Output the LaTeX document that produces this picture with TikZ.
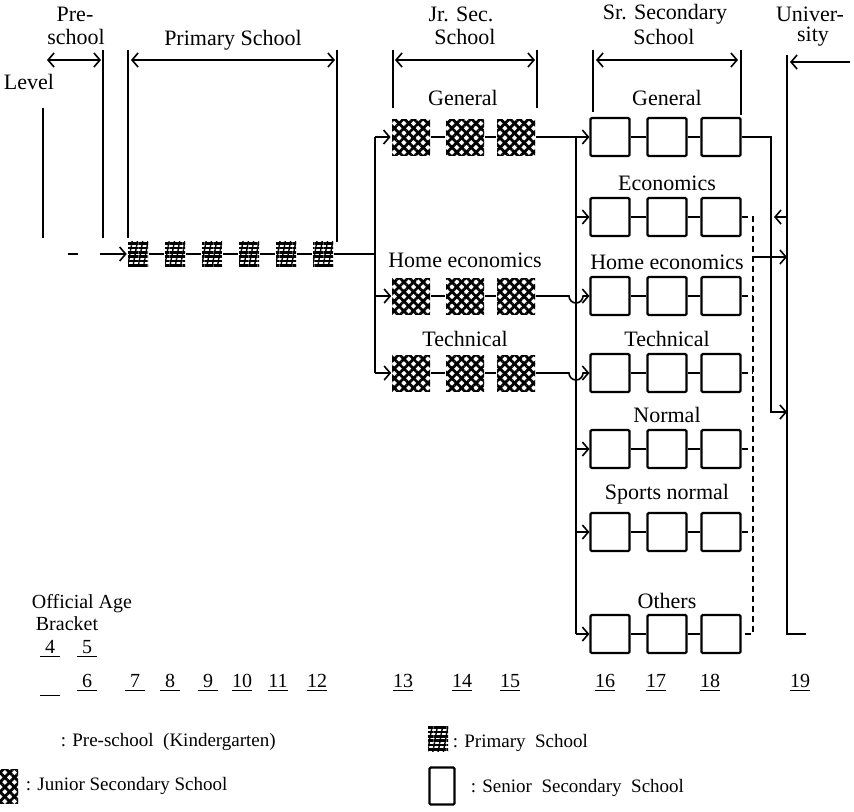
\documentclass[tikz,border=0pt]{standalone}
\usepackage{fontspec}
\setmainfont{Liberation Serif}
\usetikzlibrary{arrows.meta}
\usetikzlibrary{patterns,patterns.meta}

\begin{document}
\begin{tikzpicture}[x=0.5pt,y=-0.5pt,>={Straight Barb[length=3pt,width=7pt]},line width=0.8pt,
  lbl/.style={font=\fontsize{11}{12}\selectfont,inner sep=0pt},
  age/.style={font=\fontsize{10}{12}\selectfont,inner sep=0pt},
  key/.style={font=\fontsize{9.5}{11}\selectfont,inner sep=0pt,anchor=west},
  prim box/.style={minimum width=10pt,minimum height=12.5pt,inner sep=0pt,
    pattern={Lines[angle=0,distance=2.2pt,line width=1.3pt]},
    postaction={pattern={Lines[angle=80,distance=2.6pt,line width=0.7pt]}}},
  jr box/.style={minimum width=19pt,minimum height=18pt,inner sep=0pt,
    pattern={Lines[angle=45,distance=3.4pt,line width=1.4pt]},
    postaction={pattern={Lines[angle=-45,distance=3.4pt,line width=1.4pt]}}},
  sr box/.style={draw,line width=1.1pt,minimum width=19.5pt,minimum height=19pt,
    inner sep=0pt,rounded corners=0.6pt}]

\useasboundingbox (0,0) rectangle (854,811);

% headings
\node[lbl] (pre) at (75,14) {Pre-};
\node[lbl] (pre2) at (76,37) {school};
\node[lbl] (prim) at (233,40) {Primary School};
\node[lbl] (jrs) at (461,14) {Jr. Sec.};
\node[lbl] (jrs2) at (465,37) {School};
\node[lbl] (srs) at (665,14) {Sr. Secondary};
\node[lbl] (srs2) at (664,37) {School};
\node[lbl] (uni) at (810,14) {Univer-};
\node[lbl] (uni2) at (813,37) {sity};
\node[lbl] (level) at (29,82) {Level};

\draw[<->] (47,60) coordinate (pa) -- (101,60) coordinate (pb);
\draw[<->] (131,60) coordinate (qa) -- (335,60) coordinate (qb);
\draw[<->] (395,60) coordinate (ja) -- (535,60) coordinate (jb);
\draw[<->] (596,60) coordinate (sa) -- (738,60) coordinate (sb);
\draw[->] (850,62) coordinate (ua) -- (790,62) coordinate (ub);

\draw (103,50) -- (103,238);
\draw (43,108) -- (43,238);
\draw (128,50) -- (128,238);
\draw (337,50) -- (337,242);
\draw (393,50) -- (393,108);
\draw (537,50) -- (537,108);
\draw (593,50) -- (593,112);
\draw (741,50) -- (741,115);

% boxes
\foreach \x [count=\c] in {138,175,212,249,286,323}
  \node[prim box] (p\c) at (\x,254) {};

\foreach \r/\y in {gen/137,home/296,tech/373}
  \foreach \x [count=\c] in {411,465,516}
    \node[jr box] (j\r\c) at (\x,\y) {};

\foreach \r/\y in {gen/137,eco/217,home/296,tech/373,norm/449,sport/532,oth/634}
  \foreach \x [count=\c] in {610,667,721}
    \node[sr box] (s\r\c) at (\x,\y) {};

% row labels
\node[lbl] at (463,98) {General};
\node[lbl] at (465,260) {Home economics};
\node[lbl] at (465,339) {Technical};
\node[lbl] at (667,98) {General};
\node[lbl] at (667,183) {Economics};
\node[lbl] at (667,262) {Home economics};
\node[lbl] at (667,339) {Technical};
\node[lbl] at (667,415) {Normal};
\node[lbl] at (667,494) {Sports normal};
\node[lbl] at (667,601) {Others};

% links
\draw (p1) -- (p2) -- (p3) -- (p4) -- (p5) -- (p6);
\foreach \r in {gen,home,tech}
  \draw (j\r1) -- (j\r2) (j\r2) -- (j\r3);
\foreach \r in {gen,eco,home,tech,norm,sport,oth}
  \draw (s\r1) -- (s\r2) (s\r2) -- (s\r3);

\draw (68,254) coordinate (d1) -- (78,254) coordinate (d2);
\draw[->] (100,254) coordinate (pin) -- (p1);
\coordinate (jsplit) at (375,254);
\draw (p6) -- (jsplit);
\coordinate (jtop) at (375,137);
\draw (jtop) -- (jtop |- jtech1);
\foreach \r in {gen,home,tech}
  \draw[->] (jtop |- j\r1) -- (j\r1);

\coordinate (sfeed) at (576,137);
\draw[->] (jgen3) -- (sgen1);
\draw (sfeed) -- (sfeed |- soth1);
\foreach \r in {eco,norm,sport,oth}
  \draw[->] (sfeed |- s\r1) -- (s\r1);
\foreach \r in {home,tech}
  \draw[->] (j\r3) -- ([xshift=-3.5pt]sfeed |- j\r3)
    arc[start angle=180,end angle=360,radius=3.5pt] -- (s\r1);

% to university
\coordinate (dtop) at (753,217);
\coordinate (dbot) at (753,634);
\draw[densely dashed] (seco3) -- (dtop) -- (dbot) -- (soth3);
\foreach \r in {home,tech,norm,sport}
  \draw[densely dashed] (s\r3) -- (dtop |- s\r3);
\coordinate (utop) at (787,55);
\draw (utop) -- (787,634) coordinate (ubot) -- (806,634) coordinate (uend);
\coordinate (dout) at (753,257);
\draw[->] (dout) -- (dout -| utop);
\coordinate (gturn) at (771,137);
\coordinate (gdown) at (771,412);
\draw[->] (sgen3) -- (gturn) -- (gdown) -- (gdown -| utop);
\coordinate (uback) at (774,217);
\draw[->] (uback -| utop) -- (uback);

% ages
\node[age] (oa) at (82,604) {Official Age};
\node[age] (br) at (67,624) {Bracket};
\foreach \a/\x in {4/50,5/87}
  \node[age] (a\a) at (\x,649) {\underline{\makebox[10pt]{\a}}};
\node[age] (a0) at (50,683) {\underline{\makebox[10pt]{\strut}}};
\foreach \a/\x in {6/87,7/135,8/170,9/208,10/242,11/278,12/317,13/403,14/462,15/510,16/605,17/656,18/710,19/800}
  \node[age] (a\a) at (\x,683) {\underline{\makebox[10pt]{\a}}};

% key
\node[key] (kpre) at (60,742) {: Pre-school\ \ (Kindergarten)};
\node[prim box] (kprim) at (438,739) {};
\node[key] (kprimt) at (452,743) {: Primary\ \ School};
\node[jr box,minimum height=17pt] (kjr) at (-1,786) {};
\node[key] (kjrt) at (25,786) {: Junior Secondary School};
\node[sr box,minimum width=12.5pt,minimum height=18.5pt] (ksr) at (442,786) {};
\node[key] (ksrt) at (470,788) {: Senior\ \ Secondary\ \ School};
\end{tikzpicture}
\end{document}
